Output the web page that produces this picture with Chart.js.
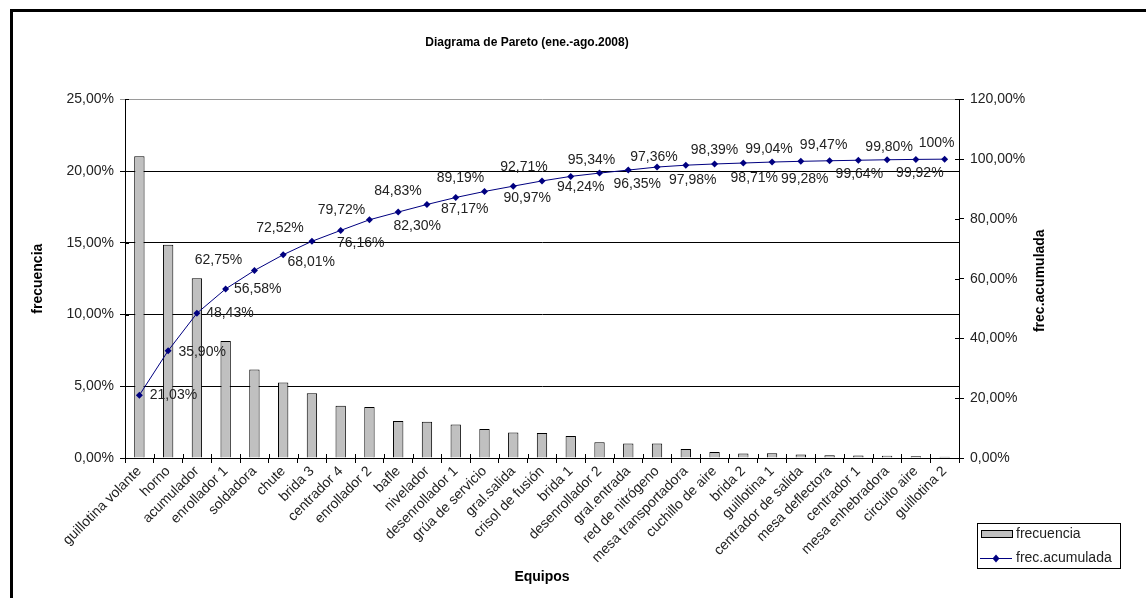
<!DOCTYPE html>
<html><head><meta charset="utf-8">
<script src="https://cdn.jsdelivr.net/npm/chart.js@4/dist/chart.umd.min.js"></script>
<style>html,body{margin:0;padding:0;background:#fff}#wrap{width:1146px;height:598px;position:relative}</style>
</head><body><div id="wrap"><canvas id="c" width="1146" height="598"></canvas></div>
<script>
const chartTitle = 'Diagrama de Pareto (ene.-ago.2008)';
const categories = ['guillotina volante','horno','acumulador','enrollador 1','soldadora','chute','brida 3','centrador 4','enrollador 2','bafle','nivelador','desenrollador 1','grúa de servicio','gral.salida','crisol de fusión','brida 1','desenrollador 2','gral.entrada','red de nitrógeno','mesa transportadora','cuchillo de aire','brida 2','guillotina 1','centrador de salida','mesa deflectora','centrador 1','mesa enhebradora','circuito aire','guillotina 2'];
const frecuencia = [21.03,14.87,12.53,8.15,6.17,5.26,4.51,3.64,3.56,2.58,2.53,2.34,2.02,1.78,1.74,1.53,1.10,1.01,1.01,0.62,0.41,0.32,0.33,0.24,0.19,0.17,0.16,0.12,0.08];
const frecAcumulada = [21.03,35.90,48.43,56.58,62.75,68.01,72.52,76.16,79.72,82.30,84.83,87.17,89.19,90.97,92.71,94.24,95.34,96.35,97.36,97.98,98.39,98.71,99.04,99.28,99.47,99.64,99.80,99.92,100];
const leftTicks = [0,5,10,15,20,25];
const rightTicks = [0,20,40,60,80,100,120];

// label placement offsets (style only): [dx, dy] from each point
const labelOffsets = [[34,0],[34,1],[33,0],[32,0],[-36,-10],[28,7],[-32,-13],[20,13],[-28,-10],[19,14],[-29,-13],[9,12],[-24,-13],[14,12],[-18,-14],[10,11],[-8,-13],[9,14],[-3,-10],[7,15],[0,-14],[11,15],[-3,-13],[4,18],[-6,-16],[1,14],[2,-13],[4,14],[-8,-16]];

const FONT = '"Liberation Sans", Arial, sans-serif';
const TXT = '#222';
const fmt = v => (v === 100 ? '100' : v.toFixed(2).replace('.', ',')) + '%';

const framePlugin = {
  id: 'frame',
  beforeDraw(chart) {
    const ctx = chart.ctx;
    ctx.save();
    ctx.fillStyle = '#fff';
    ctx.fillRect(0, 0, chart.width, chart.height);
    ctx.fillStyle = '#000';
    ctx.fillRect(10, 9, chart.width - 10, 3);
    ctx.fillRect(10, 9, 3, chart.height - 9);
    ctx.restore();
  }
};

const labelPlugin = {
  id: 'cumLabels',
  afterDatasetsDraw(chart) {
    const ctx = chart.ctx;
    const ca = chart.chartArea;
    ctx.save();
    // inner halves of tick marks (Excel-style crossing ticks)
    ctx.strokeStyle = '#000';
    ctx.lineWidth = 1;
    ctx.beginPath();
    chart.scales.y.ticks.forEach(t => {
      const yy = Math.round(chart.scales.y.getPixelForValue(t.value)) + 0.5;
      ctx.moveTo(ca.left, yy); ctx.lineTo(ca.left + 4, yy);
    });
    chart.scales.y1.ticks.forEach(t => {
      const yy = Math.round(chart.scales.y1.getPixelForValue(t.value)) + 0.5;
      ctx.moveTo(ca.right - 4, yy); ctx.lineTo(ca.right, yy);
    });
    const xs = chart.scales.x;
    for (let i = 0; i <= categories.length; i++) {
      const xx = Math.round(xs.getPixelForValue(i - 0.5)) + 0.5;
      ctx.moveTo(xx, ca.bottom - 4); ctx.lineTo(xx, ca.bottom);
    }
    ctx.stroke();

    const meta = chart.getDatasetMeta(1);
    ctx.font = '14px ' + FONT;
    ctx.fillStyle = TXT;
    ctx.textAlign = 'center';
    ctx.textBaseline = 'middle';
    meta.data.forEach((pt, i) => {
      const off = labelOffsets[i];
      ctx.fillText(fmt(frecAcumulada[i]), pt.x + off[0], pt.y + off[1]);
    });
    ctx.restore();
  }
};

const extrasPlugin = {
  id: 'extras',
  afterDraw(chart) {
    const ctx = chart.ctx;
    const ca = chart.chartArea;
    ctx.save();
    // right axis title, reading bottom to top
    ctx.font = 'bold 14px ' + FONT;
    ctx.fillStyle = '#000';
    ctx.textAlign = 'center';
    ctx.textBaseline = 'middle';
    ctx.translate(1040, (ca.top + ca.bottom) / 2 + 2);
    ctx.rotate(-Math.PI / 2);
    ctx.fillText('frec.acumulada', 0, 0);
    ctx.restore();

    // legend
    const ds = chart.data.datasets;
    ctx.save();
    const lx = 977, ly = 523, lw = 143, lh = 45;
    ctx.fillStyle = '#fff';
    ctx.fillRect(lx, ly, lw, lh);
    ctx.strokeStyle = '#000';
    ctx.lineWidth = 1;
    ctx.strokeRect(lx + 0.5, ly + 0.5, lw, lh);
    // bar entry
    ctx.fillStyle = ds[0].backgroundColor;
    ctx.fillRect(981, 530, 31, 7);
    ctx.strokeStyle = ds[0].borderColor;
    ctx.strokeRect(981.5, 530.5, 31, 7);
    // line entry
    ctx.strokeStyle = ds[1].borderColor;
    ctx.beginPath();
    ctx.moveTo(980, 558.5);
    ctx.lineTo(1012, 558.5);
    ctx.stroke();
    ctx.fillStyle = ds[1].pointBackgroundColor;
    ctx.beginPath();
    ctx.moveTo(996, 554.5); ctx.lineTo(999.5, 558.5); ctx.lineTo(996, 562.5); ctx.lineTo(992.5, 558.5);
    ctx.closePath(); ctx.fill();
    ctx.fillStyle = TXT;
    ctx.font = '14px ' + FONT;
    ctx.textAlign = 'left';
    ctx.textBaseline = 'middle';
    ctx.fillText(ds[0].label, 1016, 534);
    ctx.fillText(ds[1].label, 1016, 558);
    ctx.restore();
  }
};

new Chart(document.getElementById('c'), {
  data: {
    labels: categories,
    datasets: [
      {
        type: 'bar', label: 'frecuencia', data: frecuencia, yAxisID: 'y',
        backgroundColor: '#c0c0c0', borderColor: '#000', borderWidth: 1,
        barPercentage: 0.36, categoryPercentage: 1, order: 2
      },
      {
        type: 'line', label: 'frec.acumulada', data: frecAcumulada, yAxisID: 'y1',
        borderColor: '#000080', borderWidth: 1, backgroundColor: '#000080',
        pointStyle: 'rectRot', pointRadius: 3.5, pointBackgroundColor: '#000080',
        pointBorderColor: '#000080', pointBorderWidth: 0, tension: 0, order: 1
      }
    ]
  },
  options: {
    responsive: false,
    animation: false,
    devicePixelRatio: 1,
    layout: { padding: { left: 12, right: 104, top: 10, bottom: 0 } },
    plugins: {
      legend: { display: false },
      tooltip: { enabled: false },
      title: {
        display: true, text: chartTitle, color: '#000',
        font: { family: FONT, size: 12, weight: 'bold' },
        padding: { top: 25, bottom: 50 }
      }
    },
    scales: {
      x: {
        type: 'category', offset: true,
        afterFit: s => { s.height = 140; },
        grid: { offset: true, drawOnChartArea: false, color: '#000', tickLength: 5 },
        border: { color: '#000', width: 1 },
        ticks: { autoSkip: false, minRotation: 45, maxRotation: 45, color: TXT, font: { family: FONT, size: 14 }, padding: 0 },
        title: { display: true, text: 'Equipos', color: '#000', font: { family: FONT, size: 14, weight: 'bold' }, padding: { top: 0, bottom: 12 } }
      },
      y: {
        position: 'left', min: 0, max: 25,
        afterFit: s => { s.width = 113; },
        afterBuildTicks: s => { s.ticks = leftTicks.map(v => ({ value: v })); },
        grid: { color: ctx => (ctx.tick && ctx.tick.value === 25 ? '#9a9a9a' : '#000'), tickLength: 5, lineWidth: 1 },
        border: { color: '#000', width: 1 },
        ticks: { color: TXT, font: { family: FONT, size: 14 }, padding: 6, callback: v => v.toFixed(2).replace('.', ',') + '%' },
        title: { display: true, text: 'frecuencia', color: '#000', font: { family: FONT, size: 14, weight: 'bold' }, padding: { top: 18, bottom: 0 } }
      },
      y1: {
        position: 'right', min: 0, max: 120,
        afterFit: s => { s.width = 83; },
        afterBuildTicks: s => { s.ticks = rightTicks.map(v => ({ value: v })); },
        grid: { drawOnChartArea: false, color: '#000', tickLength: 5 },
        border: { color: '#000', width: 1 },
        ticks: { color: TXT, font: { family: FONT, size: 14 }, padding: 6, callback: v => v.toFixed(2).replace('.', ',') + '%' }
      }
    }
  },
  plugins: [framePlugin, labelPlugin, extrasPlugin]
});
</script></body></html>
